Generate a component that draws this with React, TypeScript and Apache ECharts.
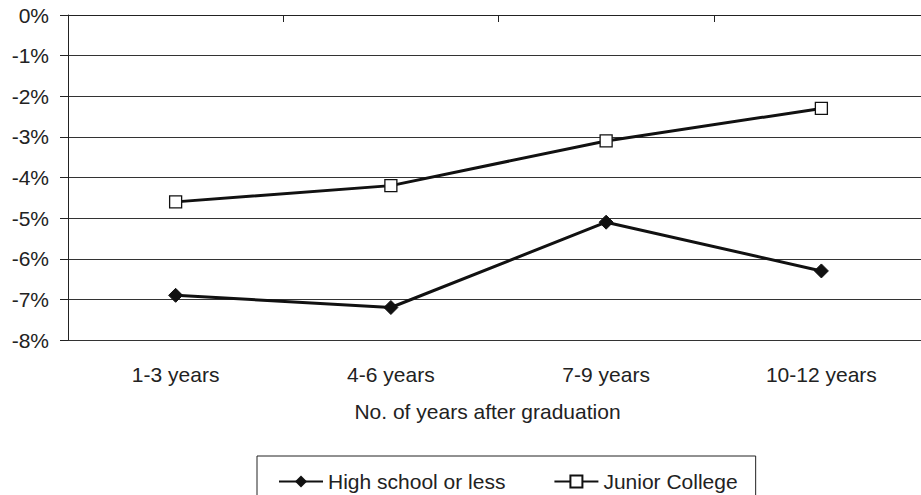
import React, { useEffect, useRef } from "react";
import * as echarts from "echarts";

const categories = ["1-3 years", "4-6 years", "7-9 years", "10-12 years"];
const highSchool = [-6.9, -7.2, -5.1, -6.3];
const juniorCollege = [-4.6, -4.2, -3.1, -2.3];
const seriesNames = ["High school or less", "Junior College"];
const xAxisTitle = "No. of years after graduation";

const FONT = "'Liberation Sans', Arial, Helvetica, sans-serif";
const TXT = "#222";

export default function App() {
  const ref = useRef<HTMLDivElement>(null);
  useEffect(() => {
    if (!ref.current) return;
    const chart = echarts.init(ref.current, null, { renderer: "svg" });
    chart.setOption({
      animation: false,
      backgroundColor: "#fff",
      textStyle: { fontFamily: FONT },
      grid: { left: 68, top: 15, width: 861, height: 325, containLabel: false },
      legend: {
        left: 257,
        top: 456,
        orient: "horizontal",
        borderColor: "#222",
        borderWidth: 1,
        padding: [15, 18, 30, 21],
        itemWidth: 44,
        itemHeight: 15,
        itemGap: 48,
        textStyle: { fontFamily: FONT, fontSize: 21, color: TXT },
        data: seriesNames,
      },
      xAxis: {
        type: "category",
        data: categories,
        boundaryGap: true,
        name: xAxisTitle,
        nameLocation: "middle",
        nameGap: 61,
        nameTextStyle: { fontFamily: FONT, fontSize: 21, color: TXT, padding: [0, 22, 0, 0] },
        axisLine: { show: true, lineStyle: { color: "#222", width: 1 } },
        axisTick: { show: true, length: 7, lineStyle: { color: "#222" }, alignWithLabel: false },
        axisLabel: { fontFamily: FONT, fontSize: 21, color: TXT, margin: 24 },
        splitLine: { show: false },
      },
      yAxis: {
        type: "value",
        min: -8,
        max: 0,
        interval: 1,
        axisLine: { show: true, lineStyle: { color: "#222", width: 1 } },
        axisTick: { show: true, length: 8, lineStyle: { color: "#222" } },
        axisLabel: {
          fontFamily: FONT,
          fontSize: 21,
          color: TXT,
          margin: 19,
          padding: [8, 0, 0, 0],
          formatter: "{value}%",
        },
        splitLine: { show: true, lineStyle: { color: "#333", width: 1 } },
      },
      series: [
        {
          name: seriesNames[0],
          type: "line",
          data: highSchool,
          symbol: "diamond",
          symbolSize: 14,
          lineStyle: { color: "#111", width: 3 },
          itemStyle: { color: "#111", borderColor: "#111" },
          z: 3,
        },
        {
          name: seriesNames[1],
          type: "line",
          data: juniorCollege,
          symbol: "rect",
          symbolSize: 12,
          showAllSymbol: true,
          lineStyle: { color: "#111", width: 3 },
          itemStyle: { color: "#fff", borderColor: "#111", borderWidth: 1.3 },
          z: 3,
        },
      ],
    });
    return () => chart.dispose();
  }, []);
  return (
    <div
      style={{ position: "fixed", left: 0, top: 0, width: 921, height: 495, overflow: "hidden", background: "#fff" }}
    >
      <div ref={ref} style={{ width: 935, height: 495 }} />
    </div>
  );
}
